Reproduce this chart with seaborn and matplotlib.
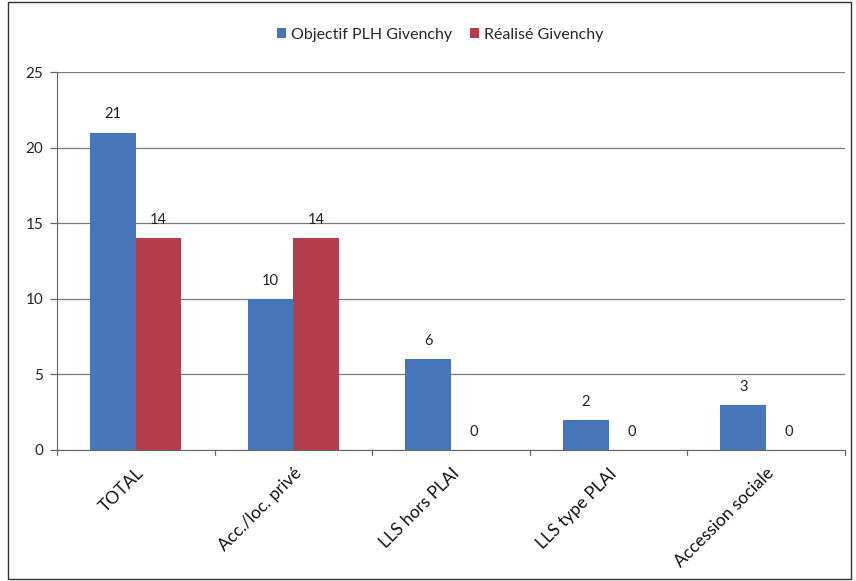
import matplotlib
matplotlib.use("Agg")
import matplotlib.pyplot as plt
import seaborn as sns
import pandas as pd
from matplotlib.patches import Rectangle, Patch

categories = ["TOTAL", "Acc./loc. privé", "LLS hors PLAI", "LLS type PLAI", "Accession sociale"]
objectif = [21, 10, 6, 2, 3]
realise = [14, 14, 0, 0, 0]
series_names = ["Objectif PLH Givenchy", "Réalisé Givenchy"]
colors = ["#4675B9", "#B43E4B"]

df = pd.DataFrame({
    "cat": categories * 2,
    "val": objectif + realise,
    "serie": [series_names[0]] * 5 + [series_names[1]] * 5,
})

sns.set_style("white")
plt.rcParams["font.family"] = ["Lato", "DejaVu Sans"]

fig = plt.figure(figsize=(8.56, 5.81), dpi=100)
ax = fig.add_axes([0.0666, 0.2255, 0.9204, 0.6505])

sns.barplot(data=df, x="cat", y="val", hue="serie", palette=colors,
            width=0.58, ax=ax, legend=False, saturation=1, linewidth=0)

for cont in ax.containers:
    ax.bar_label(cont, padding=8, fontsize=10.5, color="#222222")

ax.set_ylim(0, 25)
ax.set_xlim(-0.5, 4.5)
ax.set_yticks([0, 5, 10, 15, 20, 25])
ax.yaxis.grid(True, color="#7a7a7a", linewidth=0.9)
ax.set_axisbelow(True)
for s in ["top", "right"]:
    ax.spines[s].set_visible(False)
ax.spines["left"].set_color("#666666")
ax.spines["bottom"].set_color("#666666")
ax.set_xlabel("")
ax.set_ylabel("")

ax.set_xticks(range(5))
ax.set_xticklabels(categories, rotation=45, ha="right", rotation_mode="anchor",
                   fontsize=12.5, color="#111111")
ax.tick_params(axis="x", length=0, pad=11)
# group-boundary tick marks
for b in [-0.5, 0.5, 1.5, 2.5, 3.5, 4.5]:
    ax.plot([b, b], [0, -0.012], transform=ax.get_xaxis_transform(),
            color="#666666", lw=0.9, clip_on=False)
ax.tick_params(axis="y", length=5, width=0.9, color="#666666", labelsize=11, pad=5, left=True)

handles = [Patch(facecolor=c, edgecolor="none") for c in colors]
fig.legend(handles, series_names, loc="center", bbox_to_anchor=(0.514, 0.94), ncol=2,
           frameon=False, fontsize=11.5, handlelength=0.6, handleheight=0.6,
           columnspacing=1.1, handletextpad=0.3)

fig.patches.append(Rectangle((0.009, 0.004), 0.985, 0.992, transform=fig.transFigure,
                             fill=False, edgecolor="#333333", linewidth=1.0))

fig.savefig("out.png", dpi=100)
